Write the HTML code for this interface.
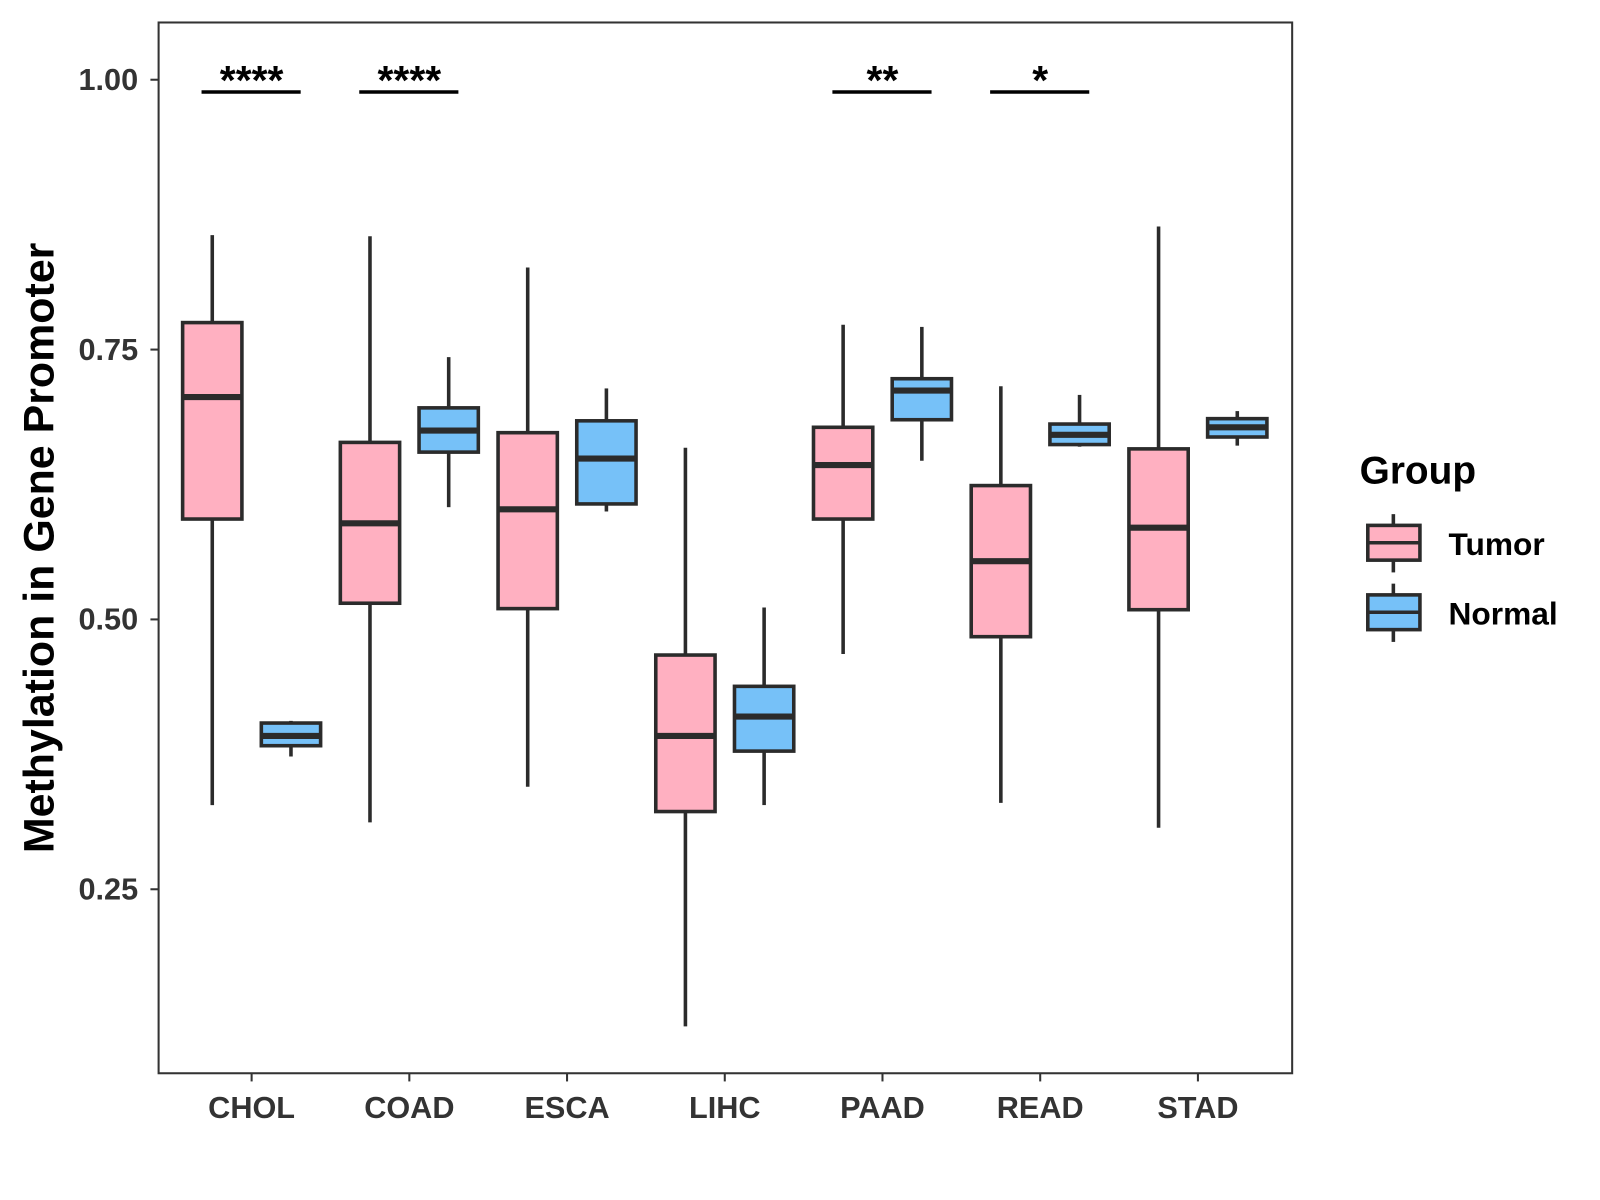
<!DOCTYPE html>
<html><head><meta charset="utf-8"><style>
html,body{margin:0;padding:0;background:#fff;}
svg{display:block;font-family:"Liberation Sans",Arial,sans-serif;}
</style></head><body>
<svg id="chart" width="1600" height="1200" viewBox="0 0 1565 1174">
<rect x="0" y="0" width="1565" height="1174" fill="#fff"/>
<g id="marks"></g>
<rect x="155" y="22" width="1109" height="1028" fill="none" stroke="#333" stroke-width="2"/>
<text transform="translate(52,536) rotate(-90)" text-anchor="middle" font-size="42" font-weight="bold" fill="#000">Methylation in Gene Promoter</text>
<g>
<text x="1330" y="473" font-size="38" font-weight="bold" fill="#000">Group</text>
<g>
<line x1="1363" y1="503" x2="1363" y2="560" stroke="#2b2b2b" stroke-width="3.5"/>
<rect x="1338" y="514" width="51" height="34" fill="#FFB0C1" stroke="#2b2b2b" stroke-width="3.5"/>
<line x1="1338" y1="531" x2="1389" y2="531" stroke="#2b2b2b" stroke-width="3.5"/>
<text x="1417" y="543" font-size="31" font-weight="bold" fill="#000">Tumor</text>
</g>
<g>
<line x1="1363" y1="571" x2="1363" y2="628" stroke="#2b2b2b" stroke-width="3.5"/>
<rect x="1338" y="582" width="51" height="34" fill="#76C1F8" stroke="#2b2b2b" stroke-width="3.5"/>
<line x1="1338" y1="599" x2="1389" y2="599" stroke="#2b2b2b" stroke-width="3.5"/>
<text x="1417" y="611" font-size="31" font-weight="bold" fill="#000">Normal</text>
</g>
</g>
</svg>
<script>
const categories = ["CHOL","COAD","ESCA","LIHC","PAAD","READ","STAD"];
// [lowWhisker, Q1, median, Q3, highWhisker]
const tumorStats = [
 [0.328,0.593,0.706,0.775,0.856],
 [0.312,0.515,0.589,0.664,0.855],
 [0.345,0.510,0.602,0.673,0.826],
 [0.123,0.322,0.392,0.467,0.659],
 [0.468,0.593,0.643,0.678,0.773],
 [0.330,0.484,0.554,0.624,0.716],
 [0.307,0.509,0.585,0.658,0.864]
];
const normalStats = [
 [0.373,0.383,0.392,0.404,0.406],
 [0.604,0.655,0.675,0.696,0.743],
 [0.600,0.607,0.649,0.684,0.714],
 [0.328,0.378,0.410,0.438,0.511],
 [0.647,0.685,0.712,0.723,0.771],
 [0.660,0.662,0.671,0.681,0.708],
 [0.661,0.669,0.678,0.686,0.693]
];
const yTicks = [0.25,0.50,0.75,1.00];
const yTickLabels = ["0.25","0.50","0.75","1.00"];
const sigLabels = ["****","****","","","**","*",""];

const NS="http://www.w3.org/2000/svg";
const g=document.getElementById('marks');
function yS(v){return 78+(1-v)*1056;}
function xS(i){return 246+i*154.3;}
function mk(tag,attrs,parent){const e=document.createElementNS(NS,tag);for(const k in attrs)e.setAttribute(k,attrs[k]);(parent||g).appendChild(e);return e;}

yTicks.forEach((t,i)=>{
 const tk=mk('line',{x1:147,x2:155,y1:yS(t),y2:yS(t),stroke:'#333','stroke-width':2});
 
 
 const lb=mk('text',{x:135,y:yS(t)+10,'text-anchor':'end','font-size':30,'font-weight':'bold',fill:'#333'});
 lb.textContent=yTickLabels[i];
 
 
});
categories.forEach((c,i)=>{
 const tk=mk('line',{x1:xS(i),x2:xS(i),y1:1050,y2:1058,stroke:'#333','stroke-width':2});
 
 
 const lb=mk('text',{x:xS(i),y:1094,'text-anchor':'middle','font-size':30,'font-weight':'bold',fill:'#333'});
 lb.textContent=c;
 
 
});
function box(s,cx,fill,name){
 const grp=mk('g',{});
 
 
 const hw=29;
 mk('line',{x1:cx,x2:cx,y1:yS(s[4]),y2:yS(s[3]),stroke:'#2b2b2b','stroke-width':3.5},grp);
 mk('line',{x1:cx,x2:cx,y1:yS(s[1]),y2:yS(s[0]),stroke:'#2b2b2b','stroke-width':3.5},grp);
 mk('rect',{x:cx-hw,y:yS(s[3]),width:hw*2,height:yS(s[1])-yS(s[3]),fill:fill,stroke:'#2b2b2b','stroke-width':3.5},grp);
 mk('line',{x1:cx-hw,x2:cx+hw,y1:yS(s[2]),y2:yS(s[2]),stroke:'#2b2b2b','stroke-width':6},grp);
}
categories.forEach((c,i)=>{
 box(tumorStats[i],xS(i)-38.5,'#FFB0C1','box-tumor-'+c.toLowerCase());
 box(normalStats[i],xS(i)+38.5,'#76C1F8','box-normal-'+c.toLowerCase());
 if(sigLabels[i]){
  const ln=mk('line',{x1:xS(i)-49,x2:xS(i)+48,y1:90,y2:90,stroke:'#000','stroke-width':3.5});
  
  
  const st=mk('text',{x:xS(i),y:92,'text-anchor':'middle','font-size':40,'font-weight':'bold',fill:'#000'});
  st.textContent=sigLabels[i];
  
  
 }
});
</script>
</body></html>
